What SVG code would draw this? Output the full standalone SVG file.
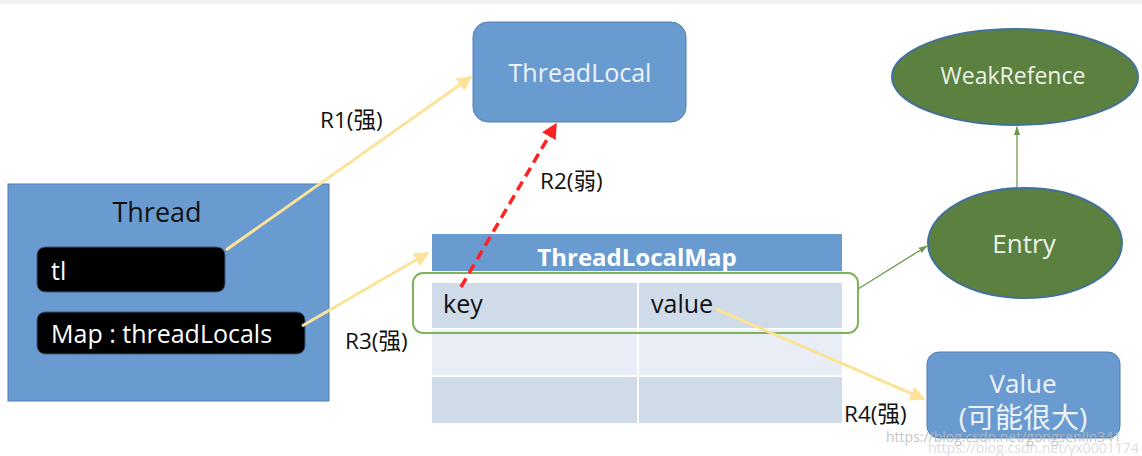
<svg xmlns="http://www.w3.org/2000/svg" width="1142" height="456" viewBox="0 0 1142 456">
<defs>
<style>
text{font-family:"Open Sans","Noto Sans","Noto Sans CJK SC",sans-serif}
.blue{fill:#6a9bd0;stroke:#4f7fb3;stroke-width:1}
.pill{fill:#000;stroke:#3a5a80;stroke-width:1}
.ell{fill:#5b8040;stroke:#41719c;stroke-width:2}
.wt{fill:#fff;font-size:25px}
.lt{fill:#eef3fa}
.lbl{fill:#111;font-size:22.5px}
.y{stroke:#fbe39a;stroke-width:3;fill:none}
.g{stroke:#6c9a4e;stroke-width:1.3;fill:none}
</style>
<marker id="ay" viewBox="0 0 10 10" refX="9" refY="5" markerWidth="5" markerHeight="5" orient="auto"><path d="M0,0L10,5L0,10z" fill="#fbe39a"/></marker>
<marker id="ar" viewBox="0 0 10 10" refX="9" refY="5" markerWidth="4.5" markerHeight="4.5" orient="auto"><path d="M0,0L10,5L0,10z" fill="#f22"/></marker>
<marker id="ag" viewBox="0 0 10 10" refX="9" refY="5" markerWidth="7" markerHeight="7" orient="auto"><path d="M0,1.5L10,5L0,8.5z" fill="#6c9a4e"/></marker>
</defs>
<rect x="0" y="0" width="1142" height="456" fill="#fff"/>
<rect x="0" y="0" width="1142" height="4" fill="#f1f0ee"/>

<g id="thread">
<rect class="blue" x="8" y="184" width="321" height="217"/>
<text x="157" y="222" text-anchor="middle" fill="#111" font-size="27">Thread</text>
<rect class="pill" x="37" y="247" width="188" height="45" rx="8"/>
<text class="wt" x="51" y="280">tl</text>
<rect class="pill" x="37" y="312" width="268" height="42" rx="8"/>
<text class="wt" x="51" y="343">Map : threadLocals</text>
</g>

<g id="threadlocal">
<rect class="blue" x="473" y="22" width="213" height="100" rx="15"/>
<text class="lt" x="580" y="82" text-anchor="middle" font-size="25">ThreadLocal</text>
</g>

<g id="threadlocalmap">
<rect x="432" y="234" width="410" height="37" fill="#6a9bd0"/>
<text x="637" y="266" text-anchor="middle" fill="#fff" font-size="24" font-weight="bold">ThreadLocalMap</text>
<rect x="432" y="283" width="205" height="45" fill="#d0dbea"/>
<rect x="639" y="283" width="203" height="45" fill="#d0dbea"/>
<rect x="432" y="330" width="205" height="45" fill="#e9eef6"/>
<rect x="639" y="330" width="203" height="45" fill="#e9eef6"/>
<rect x="432" y="377" width="205" height="46" fill="#d0dbea"/>
<rect x="639" y="377" width="203" height="46" fill="#d0dbea"/>
<text x="443" y="313" fill="#111" font-size="25">key</text>
<text x="651" y="313" fill="#111" font-size="25">value</text>
<rect x="413" y="273" width="445" height="60" rx="10" fill="none" stroke="#7fb35a" stroke-width="2"/>
</g>

<g id="weakrefence">
<ellipse class="ell" cx="1015" cy="77" rx="123" ry="48"/>
<text x="1013" y="84" text-anchor="middle" fill="#eef3e8" font-size="23">WeakRefence</text>
</g>

<g id="entry">
<ellipse class="ell" cx="1025" cy="243" rx="97" ry="55"/>
<text x="1024" y="253" text-anchor="middle" fill="#eef3e8" font-size="26">Entry</text>
</g>

<g id="value">
<rect class="blue" x="927" y="352" width="193" height="86" rx="12"/>
<text class="lt" x="1023" y="393" text-anchor="middle" font-size="26">Value</text>
<text class="lt" x="1023" y="428" text-anchor="middle" font-size="28">(可能很大)</text>
</g>

<g id="connectors">
<line class="y" x1="226" y1="250" x2="471" y2="77" marker-end="url(#ay)"/>
<line class="y" x1="302" y1="326" x2="428" y2="253" marker-end="url(#ay)"/>
<line class="y" x1="716" y1="309" x2="924" y2="399" marker-end="url(#ay)"/>
<line x1="461" y1="287" x2="556" y2="124" stroke="#f22" stroke-width="3.5" stroke-dasharray="10,6" marker-end="url(#ar)"/>
<line class="g" x1="858" y1="289" x2="927" y2="246" marker-end="url(#ag)"/>
<line class="g" x1="1017" y1="188" x2="1017" y2="127" marker-end="url(#ag)"/>
<text class="lbl" x="320" y="128">R1(强)</text>
<text class="lbl" x="540" y="189">R2(弱)</text>
<text class="lbl" x="345" y="349">R3(强)</text>
<text class="lbl" x="844" y="422">R4(强)</text>
</g>

<g id="watermark" font-family="Liberation Sans, sans-serif" font-size="14">
<text x="928" y="453" fill="#c8c8c8" opacity="0.6">https://blog.csdn.net/yx0001174</text>
<text x="886" y="442" fill="#bbbbbb" opacity="0.85">https://blog.csdn.net/gongsenlin341</text>
</g>
</svg>
